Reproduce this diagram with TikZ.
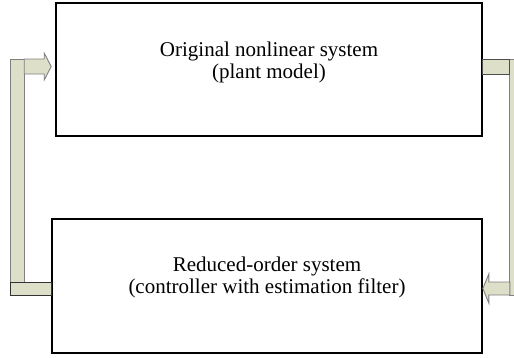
\documentclass[tikz,border=0pt]{standalone}
\usepackage{fontspec}
\setmainfont{Liberation Serif}
\usetikzlibrary{calc,shadows}
\definecolor{barfill}{RGB}{221,223,200}
\definecolor{bargray}{RGB}{128,128,128}

\begin{document}
\begin{tikzpicture}[
  x=1pt,y=-1pt,
  every node/.style={font=\fontsize{21}{21.5}\selectfont},
  sysbox/.style={draw,line width=1.6pt,inner sep=0pt,fill=white,
                 drop shadow={shadow xshift=1pt,shadow yshift=-1pt,opacity=0.5}},
  bar/.style={fill=barfill,draw=bargray,line width=0.9pt},
]
  \useasboundingbox (0,0) rectangle (514,357);
  \clip (0,0) rectangle (514,357);

  % Plant
  \node[sysbox,minimum width=426pt,minimum height=133pt] (plant) at (269,69.5) {};
  \node[align=center] (plantlbl) at (269,62.5)
    {Original nonlinear system\\(plant model)};

  % Controller
  \node[sysbox,minimum width=430pt,minimum height=134pt] (ctrl) at (267,286) {};
  \node[align=center] (ctrllbl) at (267,277.5)
    {Reduced-order system\\(controller with estimation filter)};

  % Ends of the block arrows
  \coordinate (ltip) at ($(plant.west)+(-4,-3)$);
  \coordinate (lfoot) at ($(ctrl.west)+(0,2.5)$);
  \coordinate (rtail) at ($(plant.east)+(0,-3)$);
  \coordinate (rtip) at ($(ctrl.east)+(0,2.5)$);

  % Left path: controller -> plant
  \draw[bar] ($(lfoot)+(-41,6.5)$) rectangle ($(ltip)+(-27,-7.5)$);
  \draw[bar,draw=black!80] ($(lfoot)+(-41,-6.5)$) rectangle ($(lfoot)+(0,6.5)$);
  \draw[bar] ($(ltip)+(-27,-7.5)$) -- ++(20,0) -- ++(0,-6) -- (ltip)
    -- ++(-7,13.5) -- ++(0,-6) -- ++(-20,0) -- cycle;

  % Right path: plant -> controller
  \draw[bar] ($(rtail)+(27,-7.5)$) rectangle ($(rtip)+(48,6.5)$);
  \draw[bar,draw=black!70] ($(rtail)+(0,-7.5)$) rectangle ($(rtail)+(27,7.5)$);
  \draw[bar] (rtip) -- ++(6,-14.5) -- ++(0,8) -- ++(21,0) -- ++(0,13)
    -- ++(-21,0) -- ++(0,8) -- cycle;
\end{tikzpicture}
\end{document}
